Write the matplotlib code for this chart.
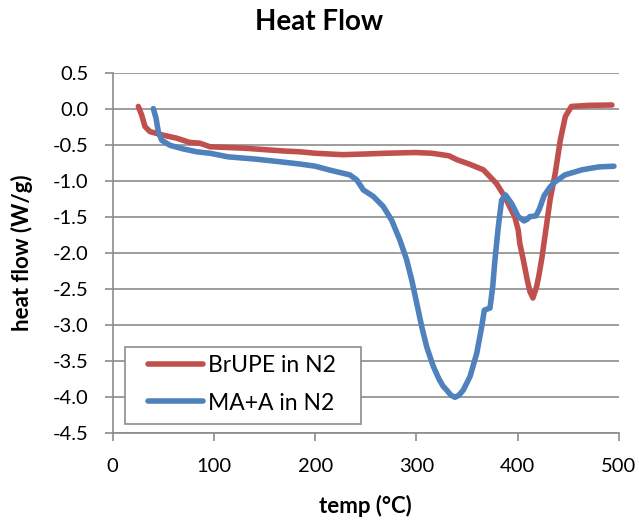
import matplotlib
matplotlib.use("Agg")
import matplotlib.pyplot as plt
from matplotlib.ticker import FixedLocator, FuncFormatter
from matplotlib.patches import Rectangle

plt.rcParams['font.family'] = ['Lato', 'DejaVu Sans']
plt.rcParams['axes.unicode_minus'] = False

red_temp = [25.3, 28.6, 31.9, 36.8, 50, 63, 76, 86, 96, 113, 130, 150, 170, 185, 200, 227, 250,
            270, 299, 315, 332, 340, 352, 366, 379, 387, 397, 400.5, 402, 405.5, 409.4, 412,
            415, 418.7, 421, 424, 428, 432, 437, 442, 447, 453, 470, 493]
red_flow = [0.04, -0.08, -0.24, -0.31, -0.36, -0.40, -0.46, -0.47, -0.52, -0.53, -0.54, -0.56,
            -0.58, -0.59, -0.61, -0.63, -0.62, -0.61, -0.60, -0.61, -0.645, -0.70, -0.76, -0.84,
            -1.03, -1.21, -1.49, -1.68, -1.86, -2.09, -2.37, -2.53, -2.62, -2.46, -2.30, -2.05,
            -1.65, -1.25, -0.89, -0.43, -0.10, 0.04, 0.055, 0.06]

blue_temp = [40.1, 42.8, 45, 48.4, 56.6, 69.7, 83, 96, 114, 140, 160, 185, 200, 214.6, 234, 241,
             247.5, 257.4, 267.2, 275.5, 283.7, 290.3, 295.3, 300.2, 305.2, 310.1, 316.6, 322,
             326, 329.8, 334, 338, 342, 346.2, 352.9, 359.5, 364.4, 367, 372.6, 375.3, 377.5,
             380.8, 384.1, 388, 394, 400.5, 406.2, 409, 412, 418, 421.5, 426, 431.9, 436.6,
             446.7, 463.5, 480, 495]
blue_flow = [0.01, -0.125, -0.31, -0.43, -0.50, -0.55, -0.59, -0.61, -0.66, -0.69, -0.72, -0.76,
             -0.79, -0.845, -0.91, -0.98, -1.12, -1.21, -1.35, -1.54, -1.82, -2.09, -2.37, -2.69,
             -3.02, -3.30, -3.57, -3.74, -3.84, -3.90, -3.97, -4.00, -3.97, -3.90, -3.71, -3.39,
             -3.02, -2.79, -2.76, -2.46, -2.09, -1.63, -1.26, -1.19, -1.31, -1.49, -1.55, -1.53,
             -1.49, -1.48, -1.38, -1.20, -1.08, -1.01, -0.91, -0.84, -0.80, -0.79]

series_names = ["BrUPE in N2", "MA+A in N2"]
x_ticks = [0, 100, 200, 300, 400, 500]
y_ticks = [0.5, 0.0, -0.5, -1.0, -1.5, -2.0, -2.5, -3.0, -3.5, -4.0, -4.5]

W, H = 639, 520
fig = plt.figure(figsize=(W / 100, H / 100), dpi=100)
ax = fig.add_axes([0.1764, 0.1667, 0.7923, 0.6923])

grid_c = '#8c8c8c'
ax.set_xlim(0, 500)
ax.set_ylim(-4.5, 0.5)
for yv in y_ticks:
    ax.axhline(yv, color=grid_c, lw=1.2, zorder=0)

ax.plot(red_temp, red_flow, color='#C0504D', lw=4.0, solid_capstyle='round',
        solid_joinstyle='round', label=series_names[0], zorder=3)
ax.plot(blue_temp, blue_flow, color='#4F81BD', lw=4.0, solid_capstyle='round',
        solid_joinstyle='round', label=series_names[1], zorder=3)

for s in ['top', 'right']:
    ax.spines[s].set_visible(False)
for s in ['left', 'bottom']:
    ax.spines[s].set_color(grid_c)
    ax.spines[s].set_linewidth(1.2)

ax.xaxis.set_major_locator(FixedLocator(x_ticks))
ax.yaxis.set_major_locator(FixedLocator(y_ticks))
ax.yaxis.set_major_formatter(FuncFormatter(lambda v, p: f"{v:.1f}"))
ax.tick_params(axis='both', colors=grid_c, labelcolor='black', labelsize=14.5,
               length=5.5, width=1.2, direction='out')
ax.tick_params(axis='x', pad=12)
ax.tick_params(axis='y', pad=12)

fig.text(365 / W, 1 - 506 / H, "temp (°C)", ha='center', va='center',
         fontsize=16, fontweight='bold')
fig.text(22 / W, 1 - 253 / H, "heat flow (W/g)", ha='center', va='center',
         fontsize=16, fontweight='bold', rotation=90)
fig.text(0.5, 1 - 22 / H, "Heat Flow", ha='center', va='center',
         fontsize=20, fontweight='bold')

# legend frame
frame = Rectangle((125 / W, 1 - 424 / H), 236 / W, 77 / H,
                  transform=fig.transFigure, facecolor='white',
                  edgecolor=grid_c, lw=1.2, zorder=4, clip_on=False)
ax.add_artist(frame)
leg = ax.legend(loc='upper left', bbox_to_anchor=(148 / W, 1 - 355 / H),
                bbox_transform=fig.transFigure, fontsize=16.5, frameon=False,
                handlelength=2.4, handletextpad=0.2, borderpad=0, labelspacing=0.72,
                borderaxespad=0)
leg.set_zorder(5)

fig.savefig("out.png", dpi=100)
